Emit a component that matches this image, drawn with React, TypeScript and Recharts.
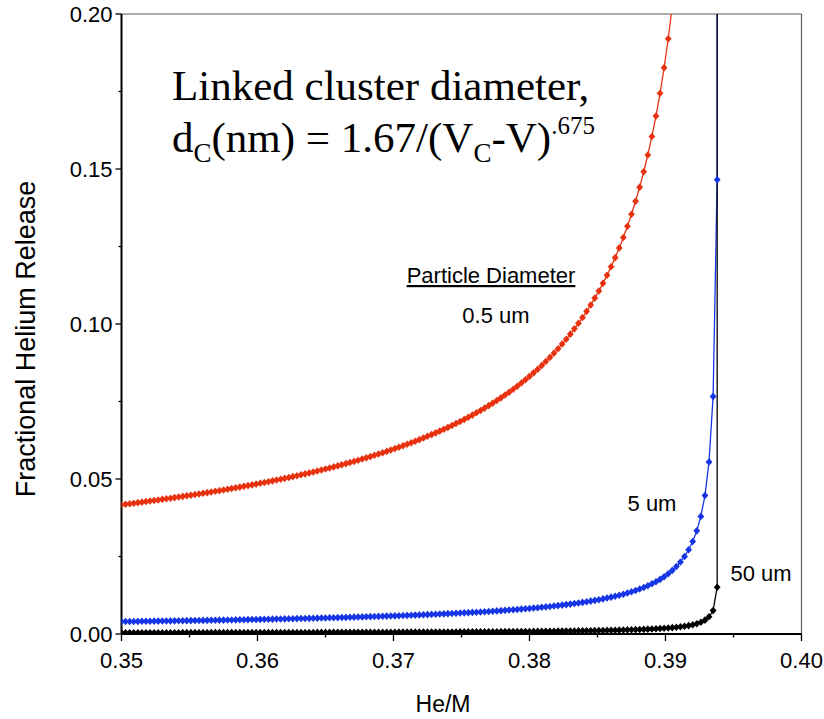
import React from 'react';
import { LineChart, Line, XAxis, YAxis, ReferenceLine, Customized } from 'recharts';

// He/M sampling grid
const HE_M = [
  0.3500, 0.3503, 0.3506, 0.3509, 0.3512, 0.3515, 0.3518, 0.3521, 0.3524, 0.3527,
  0.3530, 0.3533, 0.3536, 0.3539, 0.3542, 0.3545, 0.3548, 0.3551, 0.3554, 0.3557,
  0.3560, 0.3563, 0.3566, 0.3569, 0.3572, 0.3575, 0.3578, 0.3581, 0.3584, 0.3587,
  0.3590, 0.3593, 0.3596, 0.3599, 0.3602, 0.3605, 0.3608, 0.3611, 0.3614, 0.3617,
  0.3620, 0.3623, 0.3626, 0.3629, 0.3632, 0.3635, 0.3638, 0.3641, 0.3644, 0.3647,
  0.3650, 0.3653, 0.3656, 0.3659, 0.3662, 0.3665, 0.3668, 0.3671, 0.3674, 0.3677,
  0.3680, 0.3683, 0.3686, 0.3689, 0.3692, 0.3695, 0.3698, 0.3701, 0.3704, 0.3707,
  0.3710, 0.3713, 0.3716, 0.3719, 0.3722, 0.3725, 0.3728, 0.3731, 0.3734, 0.3737,
  0.3740, 0.3743, 0.3746, 0.3749, 0.3752, 0.3755, 0.3758, 0.3761, 0.3764, 0.3767,
  0.3770, 0.3773, 0.3776, 0.3779, 0.3782, 0.3785, 0.3788, 0.3791, 0.3794, 0.3797,
  0.3800, 0.3803, 0.3806, 0.3809, 0.3812, 0.3815, 0.3818, 0.3821, 0.3824, 0.3827,
  0.3830, 0.3833, 0.3836, 0.3839, 0.3842, 0.3845, 0.3848, 0.3851, 0.3854, 0.3857,
  0.3860, 0.3863, 0.3866, 0.3869, 0.3872, 0.3875, 0.3878, 0.3881, 0.3884, 0.3887,
  0.3890, 0.3893, 0.3896, 0.3899, 0.3902, 0.3905, 0.3908, 0.3911, 0.3914, 0.3917,
  0.3920, 0.3923, 0.3926, 0.3929, 0.3932, 0.3935, 0.3938, 0.3941,
];

// 0.5 um particles (runs off the top of the plot)
const RELEASE_05UM = [
  0.04170, 0.04186, 0.04203, 0.04220, 0.04237, 0.04254, 0.04272, 0.04289, 0.04307, 0.04325,
  0.04343, 0.04362, 0.04381, 0.04400, 0.04419, 0.04438, 0.04458, 0.04478, 0.04498, 0.04518,
  0.04539, 0.04560, 0.04582, 0.04603, 0.04625, 0.04647, 0.04670, 0.04693, 0.04716, 0.04739,
  0.04763, 0.04787, 0.04812, 0.04836, 0.04862, 0.04887, 0.04913, 0.04940, 0.04966, 0.04994,
  0.05021, 0.05049, 0.05078, 0.05107, 0.05136, 0.05166, 0.05197, 0.05228, 0.05259, 0.05291,
  0.05324, 0.05357, 0.05390, 0.05425, 0.05460, 0.05495, 0.05532, 0.05568, 0.05606, 0.05644,
  0.05683, 0.05723, 0.05764, 0.05805, 0.05848, 0.05891, 0.05935, 0.05980, 0.06026, 0.06072,
  0.06120, 0.06169, 0.06219, 0.06271, 0.06323, 0.06377, 0.06432, 0.06488, 0.06545, 0.06604,
  0.06665, 0.06727, 0.06790, 0.06856, 0.06923, 0.06992, 0.07062, 0.07135, 0.07210, 0.07287,
  0.07366, 0.07448, 0.07532, 0.07618, 0.07708, 0.07800, 0.07896, 0.07994, 0.08096, 0.08202,
  0.08311, 0.08425, 0.08542, 0.08665, 0.08791, 0.08923, 0.09061, 0.09204, 0.09353, 0.09509,
  0.09673, 0.09843, 0.10022, 0.10210, 0.10408, 0.10615, 0.10835, 0.11066, 0.11311, 0.11571,
  0.11847, 0.12141, 0.12455, 0.12791, 0.13151, 0.13539, 0.13959, 0.14414, 0.14910, 0.15453,
  0.16049, 0.16709, 0.17444, 0.18269, 0.19201, 0.20266, 0.21496, 0.22938,
];

// 5 um particles
const RELEASE_5UM = [
  0.00400, 0.00402, 0.00403, 0.00405, 0.00407, 0.00409, 0.00410, 0.00412, 0.00414, 0.00416,
  0.00418, 0.00420, 0.00422, 0.00424, 0.00426, 0.00428, 0.00430, 0.00432, 0.00434, 0.00436,
  0.00438, 0.00440, 0.00442, 0.00444, 0.00447, 0.00449, 0.00451, 0.00454, 0.00456, 0.00458,
  0.00461, 0.00463, 0.00466, 0.00468, 0.00471, 0.00474, 0.00476, 0.00479, 0.00482, 0.00484,
  0.00487, 0.00490, 0.00493, 0.00496, 0.00499, 0.00502, 0.00505, 0.00508, 0.00512, 0.00515,
  0.00518, 0.00522, 0.00525, 0.00529, 0.00532, 0.00536, 0.00540, 0.00543, 0.00547, 0.00551,
  0.00555, 0.00559, 0.00564, 0.00568, 0.00572, 0.00577, 0.00581, 0.00586, 0.00590, 0.00595,
  0.00600, 0.00605, 0.00610, 0.00616, 0.00621, 0.00626, 0.00632, 0.00638, 0.00644, 0.00650,
  0.00656, 0.00662, 0.00669, 0.00676, 0.00682, 0.00689, 0.00697, 0.00704, 0.00712, 0.00720,
  0.00728, 0.00736, 0.00745, 0.00754, 0.00763, 0.00772, 0.00782, 0.00792, 0.00803, 0.00814,
  0.00825, 0.00837, 0.00849, 0.00861, 0.00874, 0.00888, 0.00902, 0.00916, 0.00932, 0.00948,
  0.00965, 0.00982, 0.01000, 0.01020, 0.01040, 0.01061, 0.01084, 0.01107, 0.01133, 0.01159,
  0.01188, 0.01218, 0.01250, 0.01284, 0.01321, 0.01361, 0.01404, 0.01451, 0.01502, 0.01558,
  0.01619, 0.01686, 0.01762, 0.01846, 0.01942, 0.02051, 0.02178, 0.02325, 0.02502, 0.02716,
  0.02983, 0.03327, 0.03793, 0.04466, 0.05548, 0.07665, 0.14657, 1000,
];

// 50 um particles
const RELEASE_50UM = [
  0.000400, 0.000402, 0.000403, 0.000405, 0.000407, 0.000409, 0.000410, 0.000412, 0.000414, 0.000416,
  0.000418, 0.000420, 0.000422, 0.000424, 0.000426, 0.000428, 0.000430, 0.000432, 0.000434, 0.000436,
  0.000438, 0.000440, 0.000442, 0.000444, 0.000447, 0.000449, 0.000451, 0.000454, 0.000456, 0.000458,
  0.000461, 0.000463, 0.000466, 0.000468, 0.000471, 0.000474, 0.000476, 0.000479, 0.000482, 0.000484,
  0.000487, 0.000490, 0.000493, 0.000496, 0.000499, 0.000502, 0.000505, 0.000508, 0.000512, 0.000515,
  0.000518, 0.000522, 0.000525, 0.000529, 0.000532, 0.000536, 0.000540, 0.000543, 0.000547, 0.000551,
  0.000555, 0.000559, 0.000564, 0.000568, 0.000572, 0.000577, 0.000581, 0.000586, 0.000590, 0.000595,
  0.000600, 0.000605, 0.000610, 0.000616, 0.000621, 0.000626, 0.000632, 0.000638, 0.000644, 0.000650,
  0.000656, 0.000662, 0.000669, 0.000676, 0.000682, 0.000689, 0.000697, 0.000704, 0.000712, 0.000720,
  0.000728, 0.000736, 0.000745, 0.000754, 0.000763, 0.000772, 0.000782, 0.000792, 0.000803, 0.000814,
  0.000825, 0.000837, 0.000849, 0.000861, 0.000874, 0.000888, 0.000902, 0.000916, 0.000932, 0.000948,
  0.000965, 0.000982, 0.001000, 0.001020, 0.001040, 0.001061, 0.001084, 0.001107, 0.001133, 0.001159,
  0.001188, 0.001218, 0.001250, 0.001284, 0.001321, 0.001361, 0.001404, 0.001451, 0.001502, 0.001558,
  0.001619, 0.001686, 0.001762, 0.001846, 0.001942, 0.002051, 0.002178, 0.002325, 0.002502, 0.002716,
  0.002983, 0.003327, 0.003793, 0.004466, 0.005548, 0.007550, 0.015100, 100,
];

const X_TICKS = [0.35, 0.355, 0.36, 0.365, 0.37, 0.375, 0.38, 0.385, 0.39, 0.395, 0.4];
const X_LABELS = [0.35, 0.36, 0.37, 0.38, 0.39, 0.4];
const Y_TICKS = [0, 0.025, 0.05, 0.075, 0.1, 0.125, 0.15, 0.175, 0.2];
const Y_LABELS = [0, 0.05, 0.1, 0.15, 0.2];

const RED = '#e8320f';
const BLUE = '#1535e6';
const BLACK = '#000000';
const SANS = '"Liberation Sans", Arial, Helvetica, sans-serif';
const SERIF = '"Liberation Serif", "Times New Roman", serif';

const data = HE_M.map((v, i) => ({
  v,
  r05: RELEASE_05UM[i] ?? null,
  r5: RELEASE_5UM[i],
  r50: RELEASE_50UM[i],
}));

const isLabeled = (list: number[], value: number) => list.some(t => Math.abs(t - value) < 1e-9);

function YTick({ x, y, payload }: any) {
  const major = isLabeled(Y_LABELS, payload.value);
  return (
    <g>
      <line x1={x - (major ? 6 : 3)} x2={x} y1={y} y2={y} stroke="#000" strokeWidth={1.3} />
      {major && (
        <text x={x - 9} y={y} dy="0.36em" textAnchor="end" fontSize={22} fontFamily={SANS} fill="#000">
          {payload.value.toFixed(2)}
        </text>
      )}
    </g>
  );
}

function XTick({ x, y, payload }: any) {
  const major = isLabeled(X_LABELS, payload.value);
  return (
    <g>
      <line x1={x} x2={x} y1={y} y2={y + (major ? 7 : 3.5)} stroke="#000" strokeWidth={1.3} />
      {major && (
        <text x={x} y={y + 34} textAnchor="middle" fontSize={22} fontFamily={SANS} fill="#000">
          {payload.value.toFixed(2)}
        </text>
      )}
    </g>
  );
}

// small filled diamond marker
const diamond = (color: string) => (props: any) => {
  const { cx, cy, index } = props;
  const key = `${color}-${index}`;
  if (cy == null || Number.isNaN(cy)) return <g key={key} />;
  return (
    <path
      key={key}
      d={`M${cx},${cy - 3.8}L${cx + 3.4},${cy}L${cx},${cy + 3.8}L${cx - 3.4},${cy}Z`}
      fill={color}
      stroke="none"
    />
  );
};

function Annotations() {
  return (
    <g>
      <text x={172} y={100} fontSize={43} fontFamily={SERIF} fill="#000">Linked cluster diameter,</text>
      <text x={172} y={152} fontSize={43} fontFamily={SERIF} fill="#000">
        d<tspan fontSize={27} dy={10}>C</tspan>
        <tspan dy={-10}>(nm) = 1.67/(V</tspan>
        <tspan fontSize={27} dy={10}>C</tspan>
        <tspan dy={-10}>-V)</tspan>
        <tspan fontSize={25} dy={-18}>.675</tspan>
      </text>

      <text x={491} y={283} textAnchor="middle" fontSize={22} fontFamily={SANS} fill="#000"
        style={{ textDecoration: 'underline' }}>Particle Diameter</text>
      <text x={496} y={323} textAnchor="middle" fontSize={22} fontFamily={SANS} fill="#000">0.5 um</text>
      <text x={652} y={511} textAnchor="middle" fontSize={22} fontFamily={SANS} fill="#000">5 um</text>
      <text x={761} y={581} textAnchor="middle" fontSize={22} fontFamily={SANS} fill="#000">50 um</text>

      <text x={443} y={712} textAnchor="middle" fontSize={23} fontFamily={SANS} fill="#000">He/M</text>
      <text x={26} y={339} transform="rotate(-90 26 339)" textAnchor="middle" dominantBaseline="central"
        fontSize={27} fontFamily={SANS} fill="#000">Fractional Helium Release</text>
    </g>
  );
}

export default function App() {
  return (
    <div style={{ position: 'absolute', left: 0, top: 0, background: '#fff' }}>
      <LineChart width={824} height={719} data={data} margin={{ top: 14, right: 22.5, bottom: 25, left: 21.5 }}>
        <XAxis
          dataKey="v"
          type="number"
          domain={[0.35, 0.4]}
          ticks={X_TICKS}
          interval={0}
          allowDataOverflow
          height={60}
          tickSize={0}
          tickMargin={0}
          tickLine={false}
          axisLine={{ stroke: '#000', strokeWidth: 2 }}
          tick={<XTick />}
        />
        <YAxis
          type="number"
          domain={[0, 0.2]}
          ticks={Y_TICKS}
          interval={0}
          allowDataOverflow
          width={100}
          tickSize={0}
          tickMargin={0}
          tickLine={false}
          axisLine={{ stroke: '#000', strokeWidth: 2 }}
          tick={<YTick />}
        />
        <ReferenceLine y={0.2} stroke="#5a5a5a" strokeWidth={1.2} ifOverflow="visible" />
        <ReferenceLine x={0.4} stroke="#5a5a5a" strokeWidth={1.2} ifOverflow="visible" />

        <Line dataKey="r05" stroke={RED} strokeWidth={1.3} dot={diamond(RED)} activeDot={false}
          isAnimationActive={false} connectNulls={false} />
        <Line dataKey="r5" stroke={BLUE} strokeWidth={1.3} dot={diamond(BLUE)} activeDot={false}
          isAnimationActive={false} />
        <Line dataKey="r50" stroke={BLACK} strokeWidth={1.3} dot={diamond(BLACK)} activeDot={false}
          isAnimationActive={false} />

        <Customized component={<Annotations />} />
      </LineChart>
    </div>
  );
}
